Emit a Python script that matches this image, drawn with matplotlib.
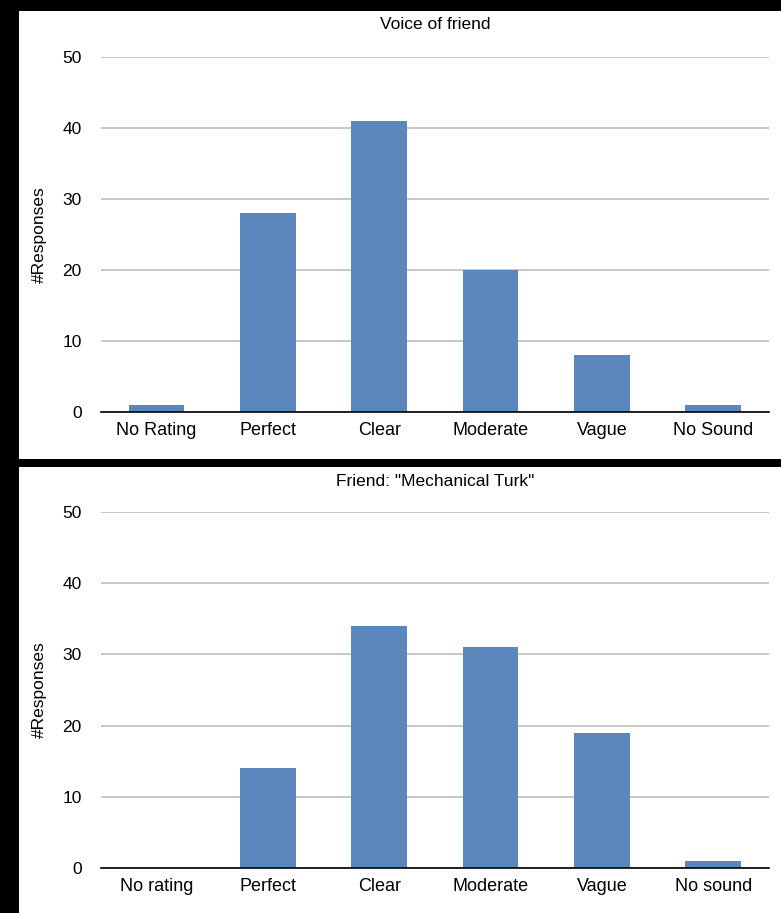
import matplotlib.pyplot as plt
from matplotlib.patches import Rectangle

plt.rcParams['font.family'] = ['Liberation Sans', 'DejaVu Sans']

# data
top_title = 'Voice of friend'
top_labels = ['No Rating', 'Perfect', 'Clear', 'Moderate', 'Vague', 'No Sound']
top_values = [1, 28, 41, 20, 8, 1]

bottom_title = 'Friend: "Mechanical Turk"'
bottom_labels = ['No rating', 'Perfect', 'Clear', 'Moderate', 'Vague', 'No sound']
bottom_values = [0, 14, 34, 31, 19, 1]

yticks = [0, 10, 20, 30, 40, 50]
bar_color = '#5b87bc'

fig = plt.figure(figsize=(7.81, 9.13), dpi=100, facecolor='black')

# white panels on black background (drawn behind the axes)
fig.patches.append(Rectangle((0.0243, 0.4973), 0.9757, 0.4907, transform=fig.transFigure,
                             facecolor='white', edgecolor='none', zorder=-5))
fig.patches.append(Rectangle((0.0243, 0.0), 0.9757, 0.4885, transform=fig.transFigure,
                             facecolor='white', edgecolor='none', zorder=-5))

ax1 = fig.add_axes([0.1293, 0.5487, 0.8553, 0.3888])
ax2 = fig.add_axes([0.1293, 0.0493, 0.8553, 0.3899])


def draw(ax, labels, values, title, fs, title_pad):
    x = range(len(labels))
    ax.bar(x, values, width=0.5, color=bar_color, zorder=3)
    ax.set_xlim(-0.5, len(labels) - 0.5)
    ax.set_ylim(0, 50)
    ax.set_yticks(yticks)
    ax.set_xticks(list(x))
    ax.set_xticklabels(labels, fontsize=fs)
    ax.tick_params(axis='y', length=0, pad=14, labelsize=fs - 0.5)
    ax.tick_params(axis='x', length=0, pad=7)
    ax.yaxis.grid(True, color='#b8b8b8', linewidth=1.1, zorder=0)
    ax.set_axisbelow(True)
    for s in ['top', 'right', 'left']:
        ax.spines[s].set_visible(False)
    ax.spines['bottom'].set_color('black')
    ax.spines['bottom'].set_linewidth(1.2)
    ax.spines['bottom'].set_zorder(4)
    ax.set_facecolor('white')
    ax.set_title(title, fontsize=fs - 0.5, pad=title_pad)
    ax.set_ylabel('#Responses', fontsize=fs - 0.5, labelpad=11)


draw(ax1, top_labels, top_values, top_title, 13, 20.5)
draw(ax2, bottom_labels, bottom_values, bottom_title, 13, 19)

fig.savefig('out.png', dpi=100, facecolor='black')
